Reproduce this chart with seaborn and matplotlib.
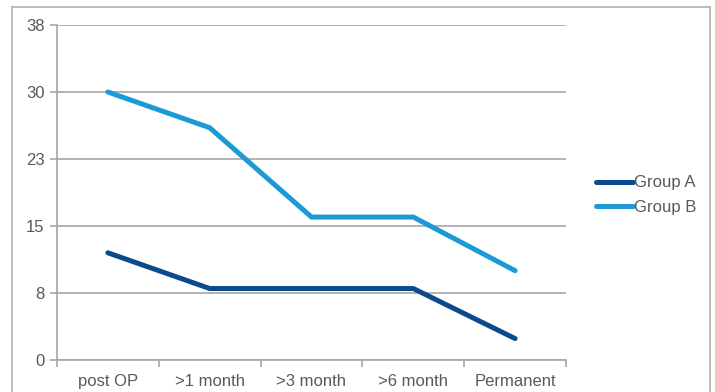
import matplotlib
matplotlib.use("Agg")
import matplotlib.pyplot as plt
from matplotlib.patches import Rectangle
import numpy as np
import pandas as pd
import seaborn as sns

categories = ["post OP", ">1 month", ">3 month", ">6 month", "Permanent"]
group_a = [12.0, 8.0, 8.0, 8.0, 2.4]
group_b = [30.0, 26.0, 16.0, 16.0, 10.0]
series_names = ["Group A", "Group B"]
y_ticks = [0, 7.5, 15, 22.5, 30, 37.5]
y_tick_labels = ["0", "8", "15", "23", "30", "38"]

df = pd.DataFrame({
    "period": categories * 2,
    "value": group_a + group_b,
    "group": [series_names[0]] * len(categories) + [series_names[1]] * len(categories),
})

sns.set_theme(style="white")
plt.rcParams["font.family"] = ["Liberation Sans", "DejaVu Sans"]

grid_col = "#a6a6a6"
text_col = "#595959"
palette = {"Group A": "#0b4a8c", "Group B": "#1b9ad6"}

fig = plt.figure(figsize=(7.15, 3.92), dpi=100)
ax = fig.add_axes([57 / 715, 1 - 360 / 392, (566 - 57) / 715, (360 - 25) / 392])

sns.lineplot(data=df, x="period", y="value", hue="group", palette=palette,
             linewidth=3.6, sort=False, ax=ax, legend=True)

ax.set_xlim(-0.5, len(categories) - 0.5)
ax.set_ylim(0, 37.5)
ax.set_yticks(y_ticks)
ax.set_yticklabels(y_tick_labels)
ax.yaxis.grid(True, color=grid_col, linewidth=1.2)
ax.set_axisbelow(True)

# category boundaries carry the tick marks, labels sit at the centres
ax.set_xticks(np.arange(-0.5, len(categories) + 0.5, 1.0))
ax.set_xticklabels([])
ax.set_xticks(np.arange(len(categories)), minor=True)
ax.set_xticklabels(categories, minor=True)
ax.tick_params(axis="x", which="major", length=5, width=1.2, color=grid_col, direction="out", bottom=True)
ax.tick_params(axis="x", which="minor", length=0, pad=10, labelsize=12, labelcolor=text_col)
ax.tick_params(axis="y", length=5, width=1.2, color=grid_col, direction="out", left=True,
               labelsize=12, labelcolor=text_col, pad=4)

for side in ["top", "right"]:
    ax.spines[side].set_visible(False)
for side in ["left", "bottom"]:
    ax.spines[side].set_color(grid_col)
    ax.spines[side].set_linewidth(1.2)

ax.set_xlabel("")
ax.set_ylabel("")

leg = ax.legend(loc="center left", bbox_to_anchor=(581 / 715, 1 - 195 / 392),
                bbox_transform=fig.transFigure, frameon=False, fontsize=12,
                handlelength=2.2, handletextpad=0.05, labelspacing=0.55)
for t in leg.get_texts():
    t.set_color(text_col)

# light frame around the whole chart
fig.patches.append(Rectangle((12 / 715, -0.05), (710 - 12) / 715, 1.05 - 7 / 392,
                             transform=fig.transFigure, fill=False,
                             edgecolor="#b0b0b0", linewidth=1.2))

fig.savefig("out.png", dpi=100)
